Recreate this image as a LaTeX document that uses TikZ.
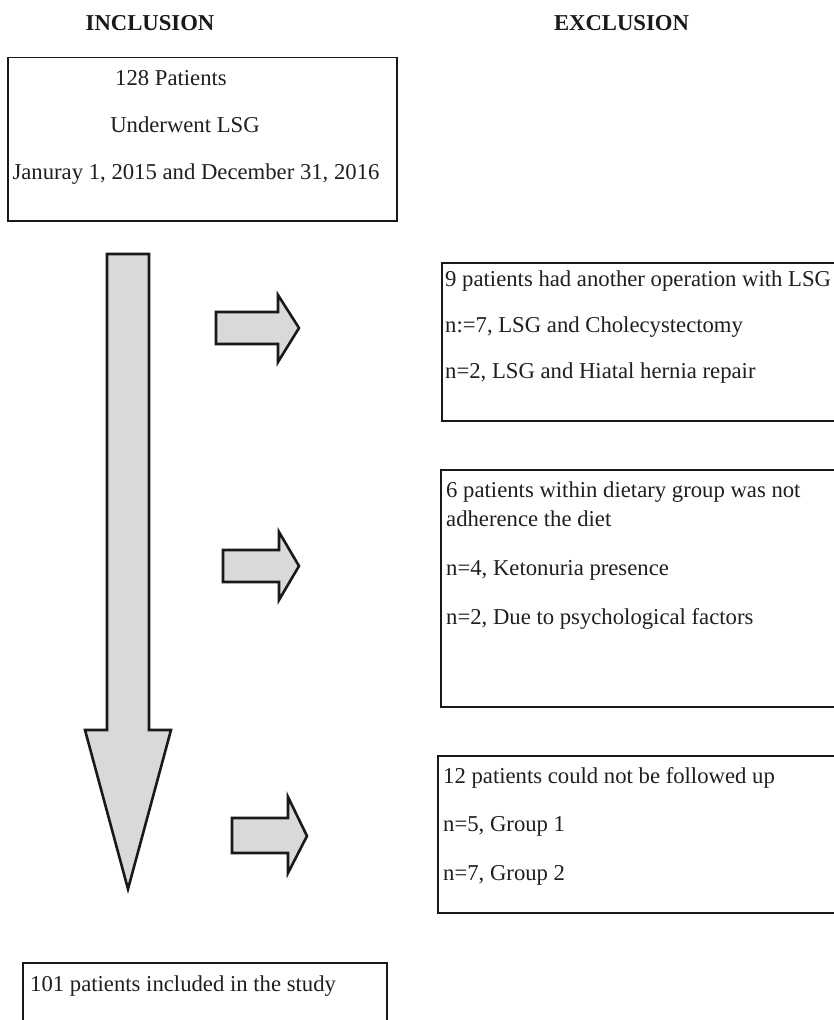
\documentclass[tikz,border=0pt]{standalone}
\usepackage{fontspec}
\setmainfont{Liberation Serif}
\begin{document}
\begin{tikzpicture}[x=1pt,y=-1pt,
  txt/.style={inner sep=0pt,anchor=base west,text=black!88,font=\fontsize{22.7}{27}\selectfont},
  ctxt/.style={txt,anchor=base},
  hdr/.style={inner sep=0pt,anchor=base,text=black!90,font=\fontsize{22.7}{27}\selectfont\bfseries},
  boxline/.style={draw=black!90,line width=1.5pt},
  bigarrow/.style={draw=black!90,fill=black!15,line width=2.6pt,line join=miter,miter limit=10}]
\useasboundingbox (0,0) rectangle (833,1020);
\fill[white] (0,0) rectangle (833,1020);
% headers
\node[hdr] (hin) at (150,30) {INCLUSION};
\node[hdr] (hex) at (621.5,30) {EXCLUSION};
% top box
\draw[boxline] (8,57.5) rectangle (397,221);
\node[ctxt] (t1) at (171,85) {128 Patients};
\node[ctxt] (t2) at (185,132) {Underwent LSG};
\node[ctxt] (t3) at (196,179) {Januray 1, 2015 and December 31, 2016};
% big down arrow
\draw[bigarrow] (107,254) -- (149,254) -- (149,730) -- (171,730) -- (128,889) -- (85,730) -- (107,730) -- cycle;
% right arrows
\draw[bigarrow] (216,312) -- (278,312) -- (278,295) -- (299,328) -- (278,362) -- (278,344) -- (216,344) -- cycle;
\draw[bigarrow] (223,550) -- (279,550) -- (279,532) -- (299,566) -- (279,600) -- (279,582) -- (223,582) -- cycle;
\draw[bigarrow] (232,818) -- (288,818) -- (288,797) -- (307,836) -- (288,873) -- (288,853) -- (232,853) -- cycle;
% exclusion box 1
\draw[boxline] (834,263) -- (442,263) -- (442,421) -- (834,421);
\node[txt] (e1a) at (445,286) {9 patients had another operation with LSG};
\node[txt] (e1b) at (445,332) {n:=7, LSG and Cholecystectomy};
\node[txt] (e1c) at (445,378) {n=2, LSG and Hiatal hernia repair};
% exclusion box 2
\draw[boxline] (834,470) -- (441,470) -- (441,707) -- (834,707);
\node[txt] (e2a) at (446,497) {6 patients within dietary group was not};
\node[txt] (e2b) at (446,526) {adherence the diet};
\node[txt] (e2c) at (446,575) {n=4, Ketonuria presence};
\node[txt] (e2d) at (446,624) {n=2, Due to psychological factors};
% exclusion box 3
\draw[boxline] (834,756) -- (438,756) -- (438,913) -- (834,913);
\node[txt] (e3a) at (443,783) {12 patients could not be followed up};
\node[txt] (e3b) at (443,831) {n=5, Group 1};
\node[txt] (e3c) at (443,880) {n=7, Group 2};
% bottom box
\draw[boxline] (23,1021) -- (23,963) -- (387,963) -- (387,1021);
\node[txt] (fin) at (30,991) {101 patients included in the study};
\end{tikzpicture}
\end{document}
